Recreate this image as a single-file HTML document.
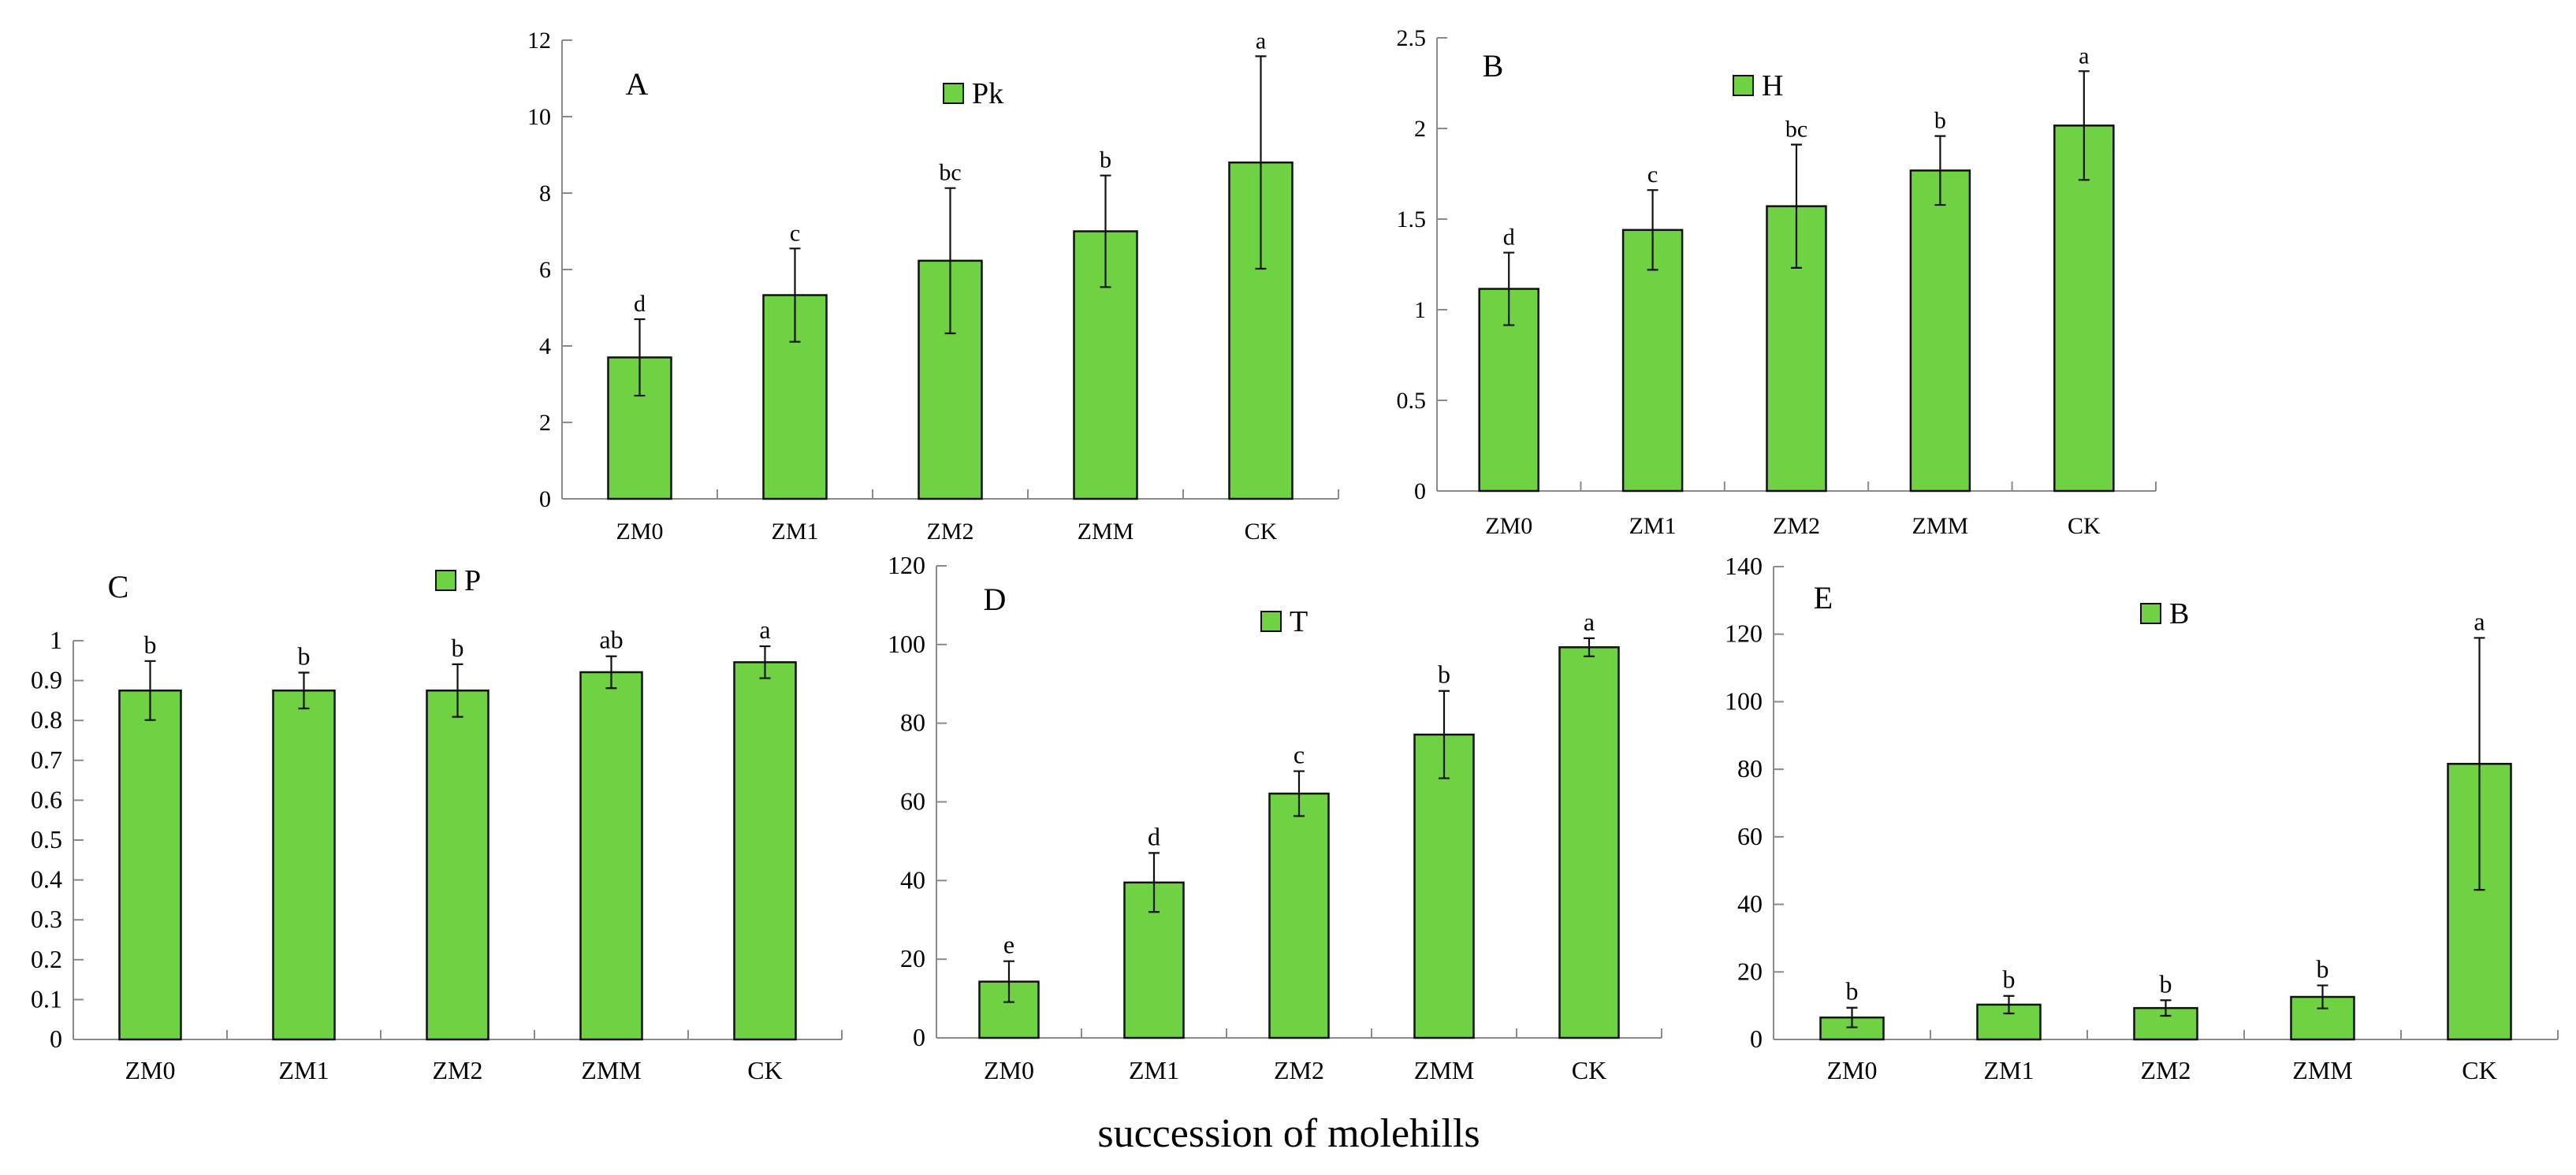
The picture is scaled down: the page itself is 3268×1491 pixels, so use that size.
<!DOCTYPE html>
<html><head><meta charset="utf-8">
<style>
html,body{margin:0;padding:0;background:#fff;}
svg{display:block;font-family:"Liberation Serif","Times New Roman",serif;}
</style></head>
<body>
<svg id="fig" width="3268" height="1491" viewBox="0 0 3268 1491" xmlns="http://www.w3.org/2000/svg">
<text x="1635" y="1455" font-size="52" text-anchor="middle" fill="#000">succession of molehills</text>
</svg>
<script>
const categories = ["ZM0","ZM1","ZM2","ZMM","CK"];

const valuesA = [3.7, 5.33, 6.23, 7.0, 8.8];
const errorsA = [1.0, 1.22, 1.9, 1.46, 2.78];
const lettersA = ["d","c","bc","b","a"];
const ticksA = ["0","2","4","6","8","10","12"];

const valuesB = [1.115, 1.44, 1.571, 1.768, 2.016];
const errorsB = [0.2, 0.22, 0.34, 0.19, 0.3];
const lettersB = ["d","c","bc","b","a"];
const ticksB = ["0","0.5","1","1.5","2","2.5"];

const valuesC = [0.875, 0.875, 0.875, 0.921, 0.946];
const errorsC = [0.074, 0.045, 0.066, 0.04, 0.04];
const lettersC = ["b","b","b","ab","a"];
const ticksC = ["0","0.1","0.2","0.3","0.4","0.5","0.6","0.7","0.8","0.9","1"];

const valuesD = [14.3, 39.5, 62.1, 77.1, 99.3];
const errorsD = [5.2, 7.5, 5.7, 11.1, 2.3];
const lettersD = ["e","d","c","b","a"];
const ticksD = ["0","20","40","60","80","100","120"];

const valuesE = [6.5, 10.3, 9.3, 12.6, 81.6];
const errorsE = [2.9, 2.6, 2.3, 3.4, 37.3];
const lettersE = ["b","b","b","b","a"];
const ticksE = ["0","20","40","60","80","100","120","140"];

const svg = document.getElementById('fig');
const NS = "http://www.w3.org/2000/svg";
function mk(tag, attrs, parent){
  const e = document.createElementNS(NS, tag);
  for (const k in attrs) e.setAttribute(k, attrs[k]);
  parent.appendChild(e);
  return e;
}

function drawPanel(id, g, vals, errs, letters, ticks, label, legend){
  const grp = document.createElementNS(NS,'g');
  
  
  svg.appendChild(grp);
  const tmin = parseFloat(ticks[0]), tmax = parseFloat(ticks[ticks.length-1]);
  const y = v => g.y0 - (v - tmin) / (tmax - tmin) * (g.y0 - g.yt);
  const cw = (g.x1 - g.x0) / categories.length;
  const xc = i => g.x0 + cw * (i + 0.5);

  // y axis
  const ya = mk('line', {x1:g.x0, y1:g.yt, x2:g.x0, y2:g.y0, stroke:'#8a8a8a', 'stroke-width':2}, grp);
  
  
  ticks.forEach((t) => {
    const ty = y(parseFloat(t));
    const tk = mk('line', {x1:g.x0, y1:ty, x2:g.x0+13, y2:ty, stroke:'#8a8a8a', 'stroke-width':2}, grp);
    
    
    const tl = mk('text', {x:g.x0-14, y:ty+10, 'font-size':g.fs, 'text-anchor':'end', fill:'#000'}, grp);
    
    
    tl.textContent = t;
  });
  // x axis
  const xa = mk('line', {x1:g.x0, y1:g.y0, x2:g.x1, y2:g.y0, stroke:'#8a8a8a', 'stroke-width':2}, grp);
  
  
  for (let i = 1; i <= categories.length; i++){
    const xt = g.x0 + cw * i;
    const tk = mk('line', {x1:xt, y1:g.y0, x2:xt, y2:g.y0-12, stroke:'#8a8a8a', 'stroke-width':2}, grp);
    
    
  }
  categories.forEach((c, i) => {
    const bx = xc(i) - g.bw/2, top = y(vals[i]);
    const bar = mk('rect', {x:bx, y:top, width:g.bw, height:g.y0-top, fill:'#6fd243', stroke:'#111', 'stroke-width':2.5}, grp);
    
    
    const hi = y(vals[i] + errs[i]), lo = y(vals[i] - errs[i]);
    const eb = mk('path', {d:`M${xc(i)},${hi}V${lo}M${xc(i)-7},${hi}H${xc(i)+7}M${xc(i)-7},${lo}H${xc(i)+7}`, stroke:'#111', 'stroke-width':2.2, fill:'none'}, grp);
    
    
    const lt = mk('text', {x:xc(i), y:hi-10, 'font-size':g.fs, 'text-anchor':'middle', fill:'#000'}, grp);
    
    
    lt.textContent = letters[i];
    const cl = mk('text', {x:xc(i), y:g.yl, 'font-size':g.fs, 'text-anchor':'middle', fill:'#000'}, grp);
    
    
    cl.textContent = c;
  });
  const pl = mk('text', {x:g.lx, y:g.ly, 'font-size':40, 'text-anchor':'middle', fill:'#000'}, grp);
  
  
  pl.textContent = label;
  const lb = mk('rect', {x:g.gx, y:g.gy, width:25, height:25, fill:'#6fd243', stroke:'#111', 'stroke-width':2}, grp);
  
  
  const lg = mk('text', {x:g.gx+36, y:g.gy+25, 'font-size':38, fill:'#000'}, grp);
  
  
  lg.textContent = legend;
}

drawPanel('a', {x0:713, x1:1698, y0:633, yt:51, bw:80, fs:30, yl:684, lx:808, ly:120, gx:1197, gy:106}, valuesA, errorsA, lettersA, ticksA, 'A', 'Pk');
drawPanel('b', {x0:1823, x1:2735, y0:623, yt:48, bw:75, fs:30, yl:677, lx:1894, ly:97, gx:2199, gy:96}, valuesB, errorsB, lettersB, ticksB, 'B', 'H');
drawPanel('c', {x0:93, x1:1068, y0:1319, yt:813, bw:78, fs:32, yl:1369, lx:150, ly:758, gx:553, gy:724}, valuesC, errorsC, lettersC, ticksC, 'C', 'P');
drawPanel('d', {x0:1188, x1:2108, y0:1317, yt:718, bw:75, fs:32, yl:1369, lx:1262, ly:774, gx:1600, gy:776}, valuesD, errorsD, lettersD, ticksD, 'D', 'T');
drawPanel('e', {x0:2250, x1:3245, y0:1319, yt:719, bw:80, fs:32, yl:1369, lx:2313, ly:772, gx:2716, gy:766}, valuesE, errorsE, lettersE, ticksE, 'E', 'B');
</script>
</body></html>
